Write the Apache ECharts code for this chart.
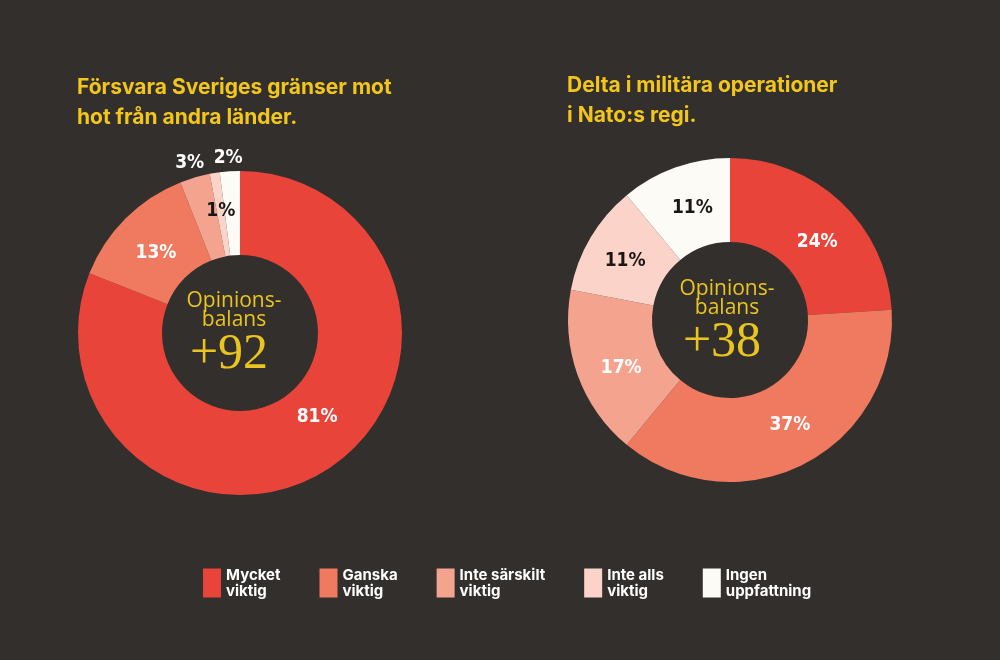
<!DOCTYPE html>
<html>
<head>
<meta charset="utf-8">
<script src="https://cdn.jsdelivr.net/npm/echarts@6/dist/echarts.min.js"></script>
<style>
html,body{margin:0;padding:0;background:#332f2d;}
#chart{width:1000px;height:660px;}
</style>
</head>
<body>
<div id="chart"></div>
<script>
const categories = ['Mycket\nviktig', 'Ganska\nviktig', 'Inte särskilt\nviktig', 'Inte alls\nviktig', 'Ingen\nuppfattning'];
const colors = ['#e9443a', '#ef7a5f', '#f4a48e', '#fbd3c9', '#fdfbf6'];
const labelColors = ['#ffffff', '#ffffff', '#ffffff', '#1a1616', '#1a1616'];
const titles = ['Försvara Sveriges gränser mot\nhot från andra länder.', 'Delta i militära operationer\ni Nato:s regi.'];
const defendBorders = [81, 13, 3, 1, 2];
const natoOperations = [24, 37, 17, 11, 11];
const balances = ['+92', '+38'];
// labels drawn outside the ring (too thin slices): [seriesIndex][dataIndex]
const outsideLabels = [[false, false, true, false, true], [false, false, false, false, false]];
const outsideLabelColor = '#ffffff';

// small visual nudges of the percentage labels (style, not data)
const labelNudge = {
  0: { 0: [8, -18], 1: [3, 7], 2: [3, -4], 4: [4, -2] },
  1: { 0: [3, 12], 1: [4, -5], 2: [7, 6], 3: [1, 4], 4: [4, 4] }
};

const chart = echarts.init(document.getElementById('chart'));
const labelFont = '"Liberation Sans Narrow", "DejaVu Sans Condensed", "Roboto", sans-serif';

function buildData(values, si) {
  return values.map((v, i) => {
    const outside = outsideLabels[si][i];
    const nudge = (labelNudge[si] && labelNudge[si][i]) || [0, 0];
    return {
      name: categories[i],
      value: v,
      itemStyle: { color: colors[i] },
      label: {
        position: outside ? 'outside' : 'inside',
        color: outside ? outsideLabelColor : labelColors[i],
        offset: nudge
      }
    };
  });
}

function pieSeries(values, si, center) {
  return {
    type: 'pie',
    center: center,
    radius: [78, 162],
    startAngle: 90,
    clockwise: true,
    avoidLabelOverlap: false,
    silent: true,
    animation: false,
    label: {
      show: true,
      formatter: '{c}%',
      fontFamily: labelFont,
      fontWeight: 'bold',
      fontSize: 19
    },
    labelLine: { show: false, length: 11, length2: 0 },
    labelLayout: function () {
      return { align: 'center', verticalAlign: 'middle' };
    },
    data: buildData(values, si)
  };
}

const centerTextColor = '#eac51f';
function centerText(x, y, bal) {
  return [
    { type: 'text', x: x, y: y, style: { text: 'Opinions-\nbalans', align: 'center', verticalAlign: 'middle', fill: centerTextColor, font: '21px "Open Sans", sans-serif', lineHeight: 19 } },
    { type: 'text', x: x - 5, y: y + 44, style: { text: bal, align: 'center', verticalAlign: 'middle', fill: centerTextColor, font: '50px "Liberation Serif", serif' } }
  ];
}

const titleStyle = { color: '#f2c61b', fontFamily: 'Inter, sans-serif', fontWeight: 'bold', fontSize: 21, lineHeight: 30 };

const option = {
  backgroundColor: '#332f2d',
  animation: false,
  title: [
    { text: titles[0], left: 77, top: 73, padding: 0, textStyle: titleStyle },
    { text: titles[1], left: 567, top: 71, padding: 0, textStyle: titleStyle }
  ],
  legend: {
    left: 203,
    top: 567,
    padding: 0,
    orient: 'horizontal',
    icon: 'rect',
    itemWidth: 18,
    itemHeight: 29,
    itemGap: 39,
    selectedMode: false,
    data: categories,
    textStyle: { color: '#ffffff', fontFamily: 'Inter, sans-serif', fontWeight: 'bold', fontSize: 15, lineHeight: 16 }
  },
  graphic: [].concat(centerText(234, 311, balances[0]), centerText(727, 299, balances[1])),
  series: [
    pieSeries(defendBorders, 0, [240, 333]),
    pieSeries(natoOperations, 1, [730, 320])
  ]
};
chart.setOption(option);
</script>
</body>
</html>
